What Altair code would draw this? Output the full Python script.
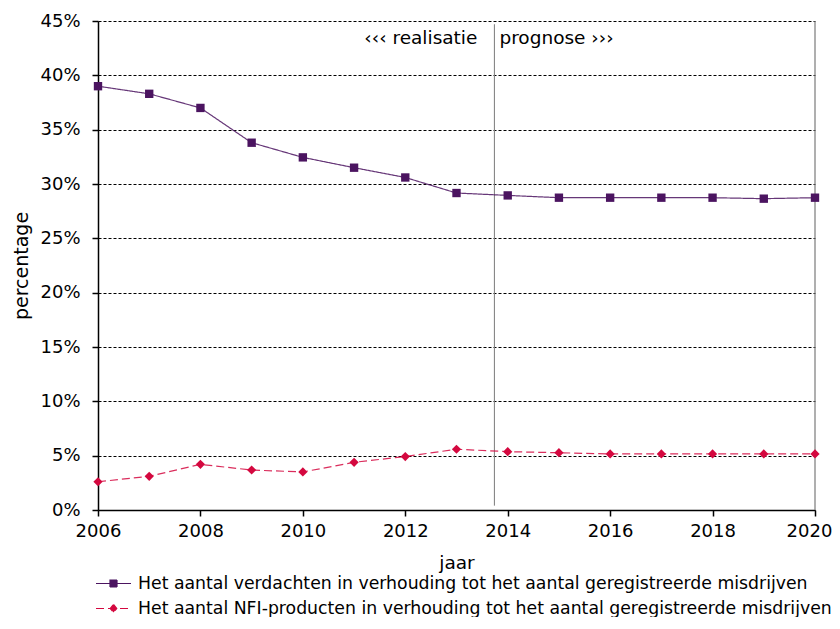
import altair as alt
import pandas as pd

years = list(range(2006, 2021))
verdachten = [0.390, 0.383, 0.370, 0.338, 0.3245, 0.315, 0.306, 0.2917, 0.2895, 0.2874, 0.2874, 0.2874, 0.2874, 0.2865, 0.2874]
nfi = [0.026, 0.031, 0.042, 0.0368, 0.035, 0.0439, 0.0492, 0.0559, 0.0537, 0.0527, 0.0516, 0.0516, 0.0516, 0.0516, 0.0516]
series_names = [
    "Het aantal verdachten in verhouding tot het aantal geregistreerde misdrijven",
    "Het aantal NFI-producten in verhouding tot het aantal geregistreerde misdrijven",
]
series_colors = ["#4B1460", "#D4083F"]
series_dash = [[1, 0], [8, 4]]
point_shapes = ["square", "diamond"]
point_sizes = [70, 85]
legend_symbols = [
    "M-1.4,0H1.4M-0.28,-0.28H0.28V0.28H-0.28Z",
    "M-1.4,0H1.4M0,-0.32L0.26,0L0,0.32L-0.26,0Z",
]
x_ticks = [2006, 2008, 2010, 2012, 2014, 2016, 2018, 2020]
y_ticks = [0, 0.05, 0.10, 0.15, 0.20, 0.25, 0.30, 0.35, 0.40, 0.45]
separator_year = [2013.74]
separator_top = [0.447]
separator_bottom = [0.004]
label_level = [0.434]
left_label = ["‹‹‹ realisatie"]
right_label = ["prognose ›››"]
x_end = [2020]

FONT = "DejaVu Sans"

df = pd.DataFrame({
    "jaar": years + years,
    "waarde": verdachten + nfi,
    "reeks": [series_names[0]] * len(years) + [series_names[1]] * len(years),
})
sep_df = pd.DataFrame({
    "jaar": separator_year,
    "top": separator_top,
    "bottom": separator_bottom,
    "level": label_level,
    "left": left_label,
    "right": right_label,
})
end_df = pd.DataFrame({"jaar": x_end, "top": [0.45], "bottom": [0.0]})

x_enc = alt.X(
    "jaar:Q",
    scale=alt.Scale(domain=[2006, 2020], nice=False, zero=False),
    axis=alt.Axis(
        values=x_ticks, format="d", title="jaar", grid=False, tickSize=6,
        labelFontSize=18, titleFontSize=18.5, labelPadding=6, titlePadding=13,
        domainColor="black", tickColor="black", labelColor="black",
        titleColor="black", titleFontWeight="normal", labelFlush=False,
        labelOffset=alt.expr("datum.value == 2020 ? -6 : 0"),
        domainWidth=1.5, tickWidth=1.5,
    ),
)
y_enc = alt.Y(
    "waarde:Q",
    scale=alt.Scale(domain=[0, 0.45], nice=False),
    axis=alt.Axis(
        values=y_ticks, format=".0%", title="percentage", grid=True,
        gridColor="black", gridDash=[3, 2], gridWidth=1, tickSize=6,
        labelFontSize=18, titleFontSize=19, labelPadding=12, titlePadding=8,
        domainColor="black", tickColor="black", labelColor="black",
        titleColor="black", titleFontWeight="normal", labelFlush=False,
        domainWidth=1.5, tickWidth=1.5,
    ),
)

legend = alt.Legend(
    title=None, orient="none", legendX=2, legendY=549,
    symbolSize=625, symbolStrokeWidth=1.2, symbolOpacity=1,
    labelFontSize=17.3, labelFont=FONT, padding=0,
    labelColor="black", labelLimit=800, labelOffset=11, rowPadding=3,
    direction="vertical",
)

series_layers = []
for i, name in enumerate(series_names):
    base = alt.Chart(df).transform_filter(alt.datum.reeks == name)
    series_layers.append(
        base.mark_line(color=series_colors[i], strokeDash=series_dash[i],
                       strokeWidth=1.2, strokeOpacity=0.85).encode(x=x_enc, y=y_enc)
    )
    series_layers.append(
        base.mark_point(filled=True, size=point_sizes[i], opacity=1,
                        shape=point_shapes[i], color=series_colors[i]).encode(
            x="jaar:Q", y="waarde:Q")
    )

legend_layer = alt.Chart(df).transform_filter("datum.jaar < 0").mark_point(
    filled=True, size=625, opacity=1, strokeWidth=1.2,
).encode(
    x="jaar:Q", y="waarde:Q",
    color=alt.Color("reeks:N", scale=alt.Scale(domain=series_names, range=series_colors), legend=legend),
    stroke=alt.Stroke("reeks:N", scale=alt.Scale(domain=series_names, range=series_colors), legend=legend),
    strokeDash=alt.StrokeDash("reeks:N", scale=alt.Scale(domain=series_names, range=series_dash), legend=legend),
    shape=alt.Shape("reeks:N", scale=alt.Scale(domain=series_names, range=legend_symbols), legend=legend),
)
sep_rule = alt.Chart(sep_df).mark_rule(color="#7a7a7a", strokeWidth=1).encode(
    x="jaar:Q", y="top:Q", y2="bottom:Q",
)
end_rule = alt.Chart(end_df).mark_rule(color="#7a7a7a", strokeWidth=1.2).encode(
    x="jaar:Q", y="top:Q", y2="bottom:Q",
)
left_text = alt.Chart(sep_df).mark_text(
    align="right", baseline="middle", dx=-17, fontSize=18.5, font=FONT, color="black",
).encode(x="jaar:Q", y="level:Q", text="left:N")
right_text = alt.Chart(sep_df).mark_text(
    align="left", baseline="middle", dx=5, fontSize=18.5, font=FONT, color="black",
).encode(x="jaar:Q", y="level:Q", text="right:N")

chart = alt.layer(
    end_rule, sep_rule, *series_layers, legend_layer, left_text, right_text
).properties(
    width=717, height=489,
    autosize=alt.AutoSizeParams(type="none"),
    padding={"left": 90, "top": 13, "right": 17, "bottom": 107},
).configure(font=FONT).configure_view(stroke=None)

chart.save("out.html", embed_options={"renderer": "svg", "actions": False})
